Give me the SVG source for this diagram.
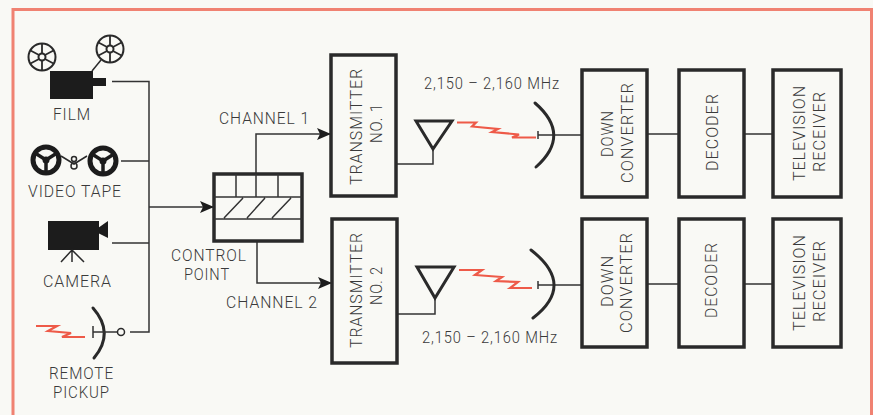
<svg xmlns="http://www.w3.org/2000/svg" xmlns:xlink="http://www.w3.org/1999/xlink" width="873" height="415" viewBox="0 0 873 415">
<style>
.t{font-family:Roboto,"Liberation Sans",sans-serif;font-size:17px;font-weight:300;fill:#3a3a3a;letter-spacing:1px}
.box{fill:none;stroke:#2a2a2a;stroke-width:3.5}
.w{fill:none;stroke:#333;stroke-width:1.5}
.d{fill:none;stroke:#2a2a2a;stroke-width:3;stroke-linecap:round}
.z{fill:none;stroke:#ee5a48;stroke-width:2.2}
.k{fill:#1c1c1c}
</style>
<defs>
<marker id="a" markerUnits="userSpaceOnUse" markerWidth="14" markerHeight="12" refX="14" refY="6" orient="auto" viewBox="0 0 14 12"><path d="M0 0L14 6L0 12L3 6Z" fill="#1c1c1c"/></marker>
<g id="film"><circle r="13.5" fill="none" stroke="#2a2a2a" stroke-width="2"/><circle r="3.5" fill="none" stroke="#2a2a2a" stroke-width="2"/><path d="M0-13V-3.5M0 13V3.5M-11.5-6.5L-3-2M11.5-6.5L3-2M-11.5 6.5L-3 2M11.5 6.5L3 2" stroke="#2a2a2a" stroke-width="1.8"/></g>
<g id="tape"><circle r="13" fill="none" stroke="#1c1c1c" stroke-width="5"/><circle r="3.5" fill="#1c1c1c"/><path d="M0 0V13M0 0L-11-7M0 0L11-7" stroke="#1c1c1c" stroke-width="3.5"/></g>
</defs>
<rect width="873" height="415" fill="#f9f9f5"/>
<path d="M13 415V9.500H871.500V415" fill="none" stroke="#f08272" stroke-width="3"/>
<g id="connectors">
<path class="w" d="M112 81.500H149V332H130"/>
<path class="w" d="M121 161H149M112 243H149"/>
<path class="w" d="M149 207H214" marker-end="url(#a)"/>
<path class="w" d="M256 174V134H331" marker-end="url(#a)"/>
<path class="w" d="M257 241V283H332" marker-end="url(#a)"/>
<path class="w" d="M433 149V164H396M435 298V314H397"/>
<path class="w" d="M538 135H582M647 134H679M744 134H773M538 285H582M647 284H679M744 284H773"/>
</g>
<g id="film-node">
<use xlink:href="#film" x="42" y="57"/><use xlink:href="#film" x="110" y="49"/>
<rect class="k" x="50" y="71" width="43" height="28"/><rect class="k" x="93" y="78" width="13" height="8"/>
<path d="M92 71L101 60" stroke="#2a2a2a" stroke-width="1.500"/>
<text class="t" x="53" y="120" textLength="38" lengthAdjust="spacingAndGlyphs">FILM</text>
</g>
<g id="video-tape">
<use xlink:href="#tape" x="46" y="160"/><use xlink:href="#tape" x="103" y="161"/>
<path d="M61 156L74 164L87 156" fill="none" stroke="#2a2a2a" stroke-width="1.500"/>
<circle cx="74" cy="159" r="2.500" fill="none" stroke="#2a2a2a" stroke-width="1.500"/><circle cx="74" cy="166" r="3" fill="none" stroke="#2a2a2a" stroke-width="1.500"/>
<text class="t" x="28" y="197" textLength="94" lengthAdjust="spacingAndGlyphs">VIDEO TAPE</text>
</g>
<g id="camera">
<rect class="k" x="48" y="221" width="51" height="29"/><path class="k" d="M98 228L108 221V238L98 233Z"/>
<path d="M72 250L61 262M72 250V262M72 250L84 262" stroke="#2a2a2a" stroke-width="1.500" fill="none"/>
<text class="t" x="43" y="287" textLength="69" lengthAdjust="spacingAndGlyphs">CAMERA</text>
</g>
<g id="remote-pickup">
<path class="z" d="M36 326H57L48 331L71 333L62 337H85"/>
<path class="d" d="M93 308Q115 333 94 358"/>
<path class="w" d="M93 326V338M93 332H117"/>
<circle cx="121" cy="332" r="3.500" fill="none" stroke="#2a2a2a" stroke-width="1.500"/>
<text class="t" x="49" y="379" textLength="65" lengthAdjust="spacingAndGlyphs">REMOTE</text>
<text class="t" x="53" y="398" textLength="57" lengthAdjust="spacingAndGlyphs">PICKUP</text>
</g>
<g id="control-point">
<rect class="box" x="214" y="174" width="88" height="67"/>
<path class="w" d="M214 197H302M214 219H302M236 174V197M256 174V197M278 174V197M224 218L243 198M247 218L265 198M272 218L291 198"/>
<text class="t" x="171" y="261" textLength="76" lengthAdjust="spacingAndGlyphs">CONTROL</text>
<text class="t" x="184" y="280" textLength="46" lengthAdjust="spacingAndGlyphs">POINT</text>
</g>
<g id="channel-labels">
<text class="t" x="219" y="124" textLength="91" lengthAdjust="spacingAndGlyphs">CHANNEL 1</text>
<text class="t" x="226" y="308" textLength="92" lengthAdjust="spacingAndGlyphs">CHANNEL 2</text>
</g>
<g id="transmitter-1">
<rect class="box" x="331" y="55" width="65" height="141"/>
<text class="t" transform="translate(362 185) rotate(-90)" textLength="117" lengthAdjust="spacingAndGlyphs">TRANSMITTER</text>
<text class="t" transform="translate(382 143) rotate(-90)" textLength="40" lengthAdjust="spacingAndGlyphs">NO. 1</text>
</g>
<g id="transmitter-2">
<rect class="box" x="332" y="219" width="65" height="144"/>
<text class="t" transform="translate(362 348) rotate(-90)" textLength="116" lengthAdjust="spacingAndGlyphs">TRANSMITTER</text>
<text class="t" transform="translate(382 305) rotate(-90)" textLength="39" lengthAdjust="spacingAndGlyphs">NO. 2</text>
</g>
<g id="link-1">
<path d="M416 121H452L433 149Z" fill="none" stroke="#2a2a2a" stroke-width="3"/>
<path class="z" d="M457 122.500H476L472 126.500L498 129L492 132L519 134.500L512 137.500H536"/>
<path class="d" d="M535 103Q572 135 536 167"/>
<path class="w" d="M538 131V139"/>
<text class="t" x="424" y="89" textLength="136" lengthAdjust="spacingAndGlyphs">2,150 – 2,160 MHz</text>
</g>
<g id="link-2">
<path d="M417 267H454L435 298Z" fill="none" stroke="#2a2a2a" stroke-width="3"/>
<path class="z" d="M459 270H482L475 275L502 277L496 281L518 282L510 288H532"/>
<path class="d" d="M531 250Q576 285 533 318"/>
<path class="w" d="M538 281V289"/>
<text class="t" x="422" y="343" textLength="136" lengthAdjust="spacingAndGlyphs">2,150 – 2,160 MHz</text>
</g>
<g id="down-converter-1">
<rect class="box" x="582" y="70" width="65" height="127"/>
<text class="t" transform="translate(613 157) rotate(-90)" textLength="47" lengthAdjust="spacingAndGlyphs">DOWN</text>
<text class="t" transform="translate(633 183) rotate(-90)" textLength="101" lengthAdjust="spacingAndGlyphs">CONVERTER</text>
</g>
<g id="decoder-1">
<rect class="box" x="679" y="70" width="65" height="127"/>
<text class="t" transform="translate(718 171) rotate(-90)" textLength="78" lengthAdjust="spacingAndGlyphs">DECODER</text>
</g>
<g id="tv-1">
<rect class="box" x="773" y="70" width="68" height="127"/>
<text class="t" transform="translate(805 181) rotate(-90)" textLength="96" lengthAdjust="spacingAndGlyphs">TELEVISION</text>
<text class="t" transform="translate(825 172) rotate(-90)" textLength="81" lengthAdjust="spacingAndGlyphs">RECEIVER</text>
</g>
<g id="down-converter-2">
<rect class="box" x="582" y="219" width="65" height="128"/>
<text class="t" transform="translate(613 307) rotate(-90)" textLength="52" lengthAdjust="spacingAndGlyphs">DOWN</text>
<text class="t" transform="translate(632 333) rotate(-90)" textLength="101" lengthAdjust="spacingAndGlyphs">CONVERTER</text>
</g>
<g id="decoder-2">
<rect class="box" x="679" y="219" width="65" height="128"/>
<text class="t" transform="translate(717 318) rotate(-90)" textLength="76" lengthAdjust="spacingAndGlyphs">DECODER</text>
</g>
<g id="tv-2">
<rect class="box" x="773" y="219" width="68" height="128"/>
<text class="t" transform="translate(805 331) rotate(-90)" textLength="97" lengthAdjust="spacingAndGlyphs">TELEVISION</text>
<text class="t" transform="translate(825 322) rotate(-90)" textLength="82" lengthAdjust="spacingAndGlyphs">RECEIVER</text>
</g>
</svg>
